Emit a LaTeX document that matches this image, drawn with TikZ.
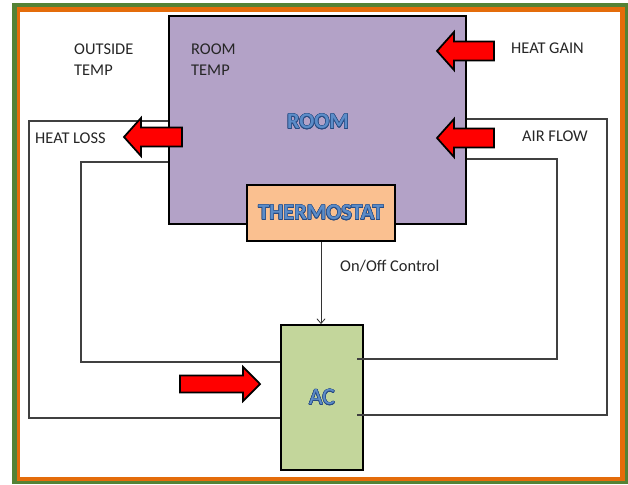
\documentclass[tikz,border=0pt]{standalone}
\usepackage{fontspec}
\setmainfont{Carlito}
\usepackage{contour}
\contourlength{0.45pt}
\usetikzlibrary{arrows.meta, positioning, calc}
\definecolor{cRoom}{RGB}{179,162,199}
\definecolor{cThermo}{RGB}{250,192,144}
\definecolor{cAC}{RGB}{195,214,155}
\definecolor{cGreenEdge}{RGB}{84,130,53}
\definecolor{cOrangeEdge}{RGB}{228,108,10}
\definecolor{cWord}{RGB}{92,140,200}
\definecolor{cWordEdge}{RGB}{40,75,130}
\definecolor{cArrow}{RGB}{255,0,0}
\newcommand{\wordart}[1]{\contour{cWordEdge}{#1}}
\tikzset{
	box/.style      ={rectangle, draw=black, line width=1.6pt, inner sep=0pt, align=center},
	txt/.style      ={inner sep=0pt, align=left, text=black!85, font=\fontsize{14}{18}\selectfont},
	word/.style     ={text=cWord, font=\fontsize{19}{22}\selectfont\bfseries},
	loopline/.style ={draw=black!75, line width=0.9pt},
	ctrlarrow/.style={-{Straight Barb[length=4pt, width=7pt]}, line width=0.7pt, black!80},
	arrowfill/.style={fill=cArrow, draw=black, line width=1.5pt, line join=miter},
	% red block arrow, tip at the pic origin, pointing along +x
	pics/redarrow/.style={code={
		\draw[arrowfill] (0,0) -- (-17,19) -- (-17,9.5) -- (-#1,9.5) -- (-#1,-9.5) -- (-17,-9.5) -- (-17,-19) -- cycle;
	}},
}
\begin{document}
\begin{tikzpicture}[x=0.03cm, y=-0.03cm]
	\useasboundingbox (0,0) rectangle (628,484);
	% frame
	\fill[cGreenEdge] (12,3) rectangle (628,484);
	\fill[cOrangeEdge] (17,7) rectangle (625,481);
	\fill[white] (20,12) rectangle (620,477);
	% blocks
	\node[box, fill=cRoom, minimum width=8.91cm, minimum height=6.24cm, word] (room) at (317.5,120) {};
	\node[word] (roomword) at (318,122) {\wordart{ROOM}};
	\node[box, fill=cThermo, minimum width=4.44cm, minimum height=1.68cm, word] (thermo) at (321,213) {\wordart{THERMOSTAT}};
	\node[box, fill=cAC, minimum width=2.46cm, minimum height=4.35cm, word, font=\fontsize{20}{24}\selectfont] (ac) at (322,397.5) {\wordart{AC}};
	% labels
	\node[txt, anchor=north west] (outside)  at (74,44)   {OUTSIDE\\TEMP};
	\node[txt, anchor=north west] (roomtemp) at (191,44)  {ROOM\\TEMP};
	\node[txt, anchor=base west]  (heatloss) at (35,144)  {HEAT LOSS};
	\node[txt, anchor=base west]  (heatgain) at (511,54)  {HEAT GAIN};
	\node[txt, anchor=base west]  (airflow)  at (522,142) {AIR FLOW};
	\node[txt, anchor=base west]  (onoff)    at (340,271) {On/Off Control};
	% air loops
	\coordinate (outerL) at (29,121);
	\coordinate (innerL) at (81,162);
	\coordinate (outerR) at (607,119);
	\coordinate (innerR) at (557,159);
	\draw[loopline] (room.west |- outerL) -- (outerL) |- ($(ac.west)+(0,20.5)$);
	\draw[loopline] (room.west |- innerL) -- (innerL) |- ($(ac.west)+(0,-35.5)$);
	\draw[loopline] (room.east |- outerR) -- (outerR) |- ($(ac.east)+(-7,17.5)$);
	\draw[loopline] (room.east |- innerR) -- (innerR) |- ($(ac.east)+(-7,-38.5)$);
	\draw[ctrlarrow] (thermo.south) -- (thermo.south |- ac.north);
	% heat arrows
	\pic[rotate=180] at (437,51)  {redarrow=57};
	\pic[rotate=180] at (437,138) {redarrow=57};
	\pic[rotate=180] at (124,137) {redarrow=58};
	\pic[yscale=0.9] at (260,384) {redarrow=80};
\end{tikzpicture}
\end{document}
